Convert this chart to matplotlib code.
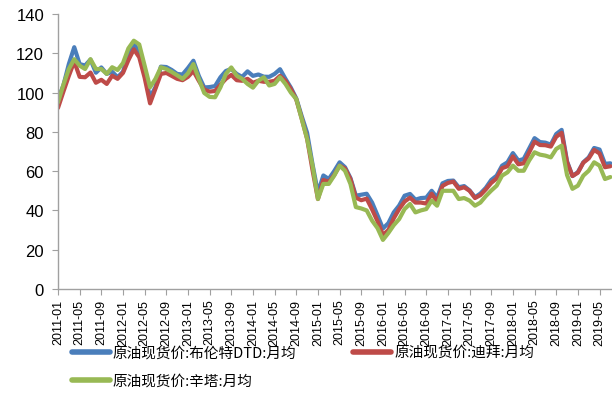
import matplotlib
matplotlib.use("Agg")
import matplotlib.pyplot as plt
import matplotlib.ticker as mticker
import numpy as np

months = [f"{y}-{m:02d}" for y in range(2011, 2020) for m in range(1, 13)][:103]

brent = [96.5, 103.7, 114.5, 123.1, 114.5, 113.8, 116.8, 110.1, 112.8, 109.5, 110.6, 107.8,
         110.6, 119.5, 125.3, 119.8, 110.4, 97.5, 102.8, 113.2, 113.0, 111.5, 109.5, 109.2,
         112.5, 116.2, 108.5, 102.6, 102.8, 103.3, 107.8, 111.0, 112.0, 109.5, 108.0, 110.8,
         108.5, 109.2, 108.1, 108.0, 109.5, 111.9, 107.0, 102.5, 97.0, 88.0, 79.5, 63.5,
         49.0, 57.8, 56.0, 60.0, 64.5, 62.0, 56.5, 47.5, 48.0, 48.5, 44.0, 37.5,
         30.8, 33.5, 39.0, 42.5, 47.5, 48.4, 45.5, 46.3, 46.5, 50.0, 46.5, 53.8,
         55.0, 55.2, 51.8, 52.4, 50.2, 46.7, 48.6, 51.5, 55.5, 57.7, 62.8, 64.5,
         69.2, 65.4, 66.2, 71.5, 76.8, 74.8, 74.5, 73.5, 78.9, 81.0, 65.0, 57.5,
         59.5, 64.5, 67.0, 71.8, 71.0, 63.7, 64.0]

dubai = [92.2, 100.5, 108.5, 115.8, 108.0, 107.8, 110.2, 105.0, 106.5, 104.4, 108.6, 107.0,
         110.0, 116.5, 122.0, 118.0, 107.5, 94.5, 102.0, 109.5, 110.0, 108.5, 107.0, 106.3,
         108.0, 111.0, 106.0, 101.5, 100.5, 100.8, 104.0, 107.0, 109.0, 106.3, 106.0, 107.0,
         105.0, 106.0, 105.5, 105.5, 106.0, 108.5, 106.0, 101.8, 96.5, 86.8, 76.5, 60.5,
         45.8, 55.5, 54.5, 58.0, 62.8, 61.3, 56.0, 46.5, 45.2, 46.0, 40.5, 34.5,
         27.5, 30.0, 36.0, 40.7, 44.5, 46.5, 44.0, 44.0, 43.5, 48.5, 44.5, 52.5,
         54.0, 54.7, 51.0, 51.8, 50.0, 46.3, 47.8, 50.7, 54.0, 56.3, 61.5, 62.5,
         67.5, 63.5, 64.0, 69.5, 75.0, 73.3, 73.2, 72.5, 77.5, 79.5, 64.5, 57.5,
         59.2, 64.3, 66.5, 70.8, 69.0, 62.0, 62.5]

cinta = [95.0, 104.0, 112.0, 117.0, 113.7, 112.0, 117.0, 112.0, 112.0, 109.5, 112.9, 111.5,
         115.0, 122.5, 126.4, 124.5, 113.7, 102.7, 107.0, 112.9, 112.0, 110.5, 108.8, 107.0,
         109.8, 114.5, 107.0, 99.8, 97.8, 97.6, 102.7, 109.5, 112.8, 108.6, 107.0, 104.4,
         102.5, 106.0, 107.8, 103.6, 104.4, 107.8, 104.4, 100.0, 96.7, 86.6, 76.4, 62.8,
         45.8, 53.5, 53.5, 57.7, 62.8, 60.2, 53.5, 41.7, 41.0, 40.0, 34.8, 31.0,
         25.0, 28.5, 32.5, 35.6, 40.7, 43.3, 39.0, 40.0, 40.7, 45.0, 42.4, 50.0,
         50.0, 50.0, 45.8, 46.3, 45.0, 42.4, 44.0, 47.3, 50.1, 52.6, 57.7, 59.4,
         62.8, 60.2, 60.2, 65.4, 69.6, 68.4, 67.9, 67.0, 71.3, 73.0, 58.0, 51.0,
         52.6, 57.7, 60.2, 64.5, 62.8, 56.0, 57.0]

labels = ["原油现货价:布伦特DTD:月均", "原油现货价:迪拜:月均", "原油现货价:辛塔:月均"]
colors = ["#4A7EBB", "#BE4B48", "#98B954"]

plt.rcParams['font.family'] = ['Liberation Sans', 'DejaVu Sans']

fig = plt.figure(figsize=(6.12, 4.14), dpi=100)
ax = fig.add_axes([58/612, 124/414, (612-58)/612, (290-15)/414])

x = np.arange(len(months))
l1, = ax.plot(x, brent, color=colors[0], lw=3.0, solid_joinstyle='round', solid_capstyle='round')
l2, = ax.plot(x, dubai, color=colors[1], lw=3.0, solid_joinstyle='round', solid_capstyle='round')
l3, = ax.plot(x, cinta, color=colors[2], lw=3.0, solid_joinstyle='round', solid_capstyle='round')

ax.set_xlim(0, 102.3)
ax.set_ylim(0, 140)
ax.yaxis.set_major_locator(mticker.MultipleLocator(20))
tick_pos = x[::4]
ax.set_xticks(tick_pos)
ax.set_xticklabels([months[i] for i in tick_pos], rotation=90, fontsize=9)
ax.tick_params(axis='y', labelsize=12, length=4, color='#A0A0A0', pad=6)
ax.tick_params(axis='x', length=4, color='#A0A0A0', pad=3)
for s in ['top', 'right']:
    ax.spines[s].set_visible(False)
for s in ['left', 'bottom']:
    ax.spines[s].set_color('#A0A0A0')
    ax.spines[s].set_linewidth(1.0)

leg = fig.legend([l1, l3, l2], [labels[0], labels[2], labels[1]], ncol=2,
                 loc='upper left', bbox_to_anchor=(72/612, 1 - 347/414),
                 frameon=False, prop={'family': ['Noto Sans CJK SC', 'DejaVu Sans'], 'size': 10.5},
                 handlelength=2.6, handletextpad=0.2, columnspacing=3.9, labelspacing=0.95,
                 borderaxespad=0, borderpad=0.0)
for h in leg.legend_handles:
    h.set_linewidth(4)

fig.savefig("out.png", dpi=100)
